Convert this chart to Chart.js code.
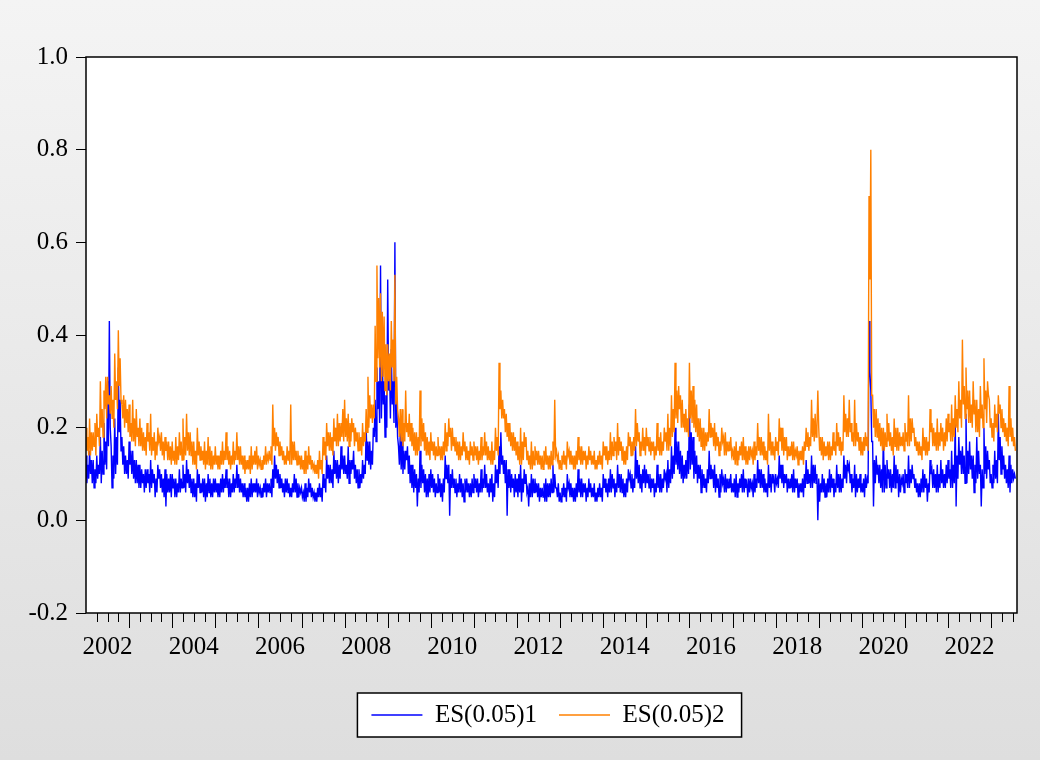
<!DOCTYPE html>
<html>
<head>
<meta charset="utf-8">
<script src="https://cdn.jsdelivr.net/npm/chart.js@4.4.0/dist/chart.umd.min.js"></script>
<style>
  html, body { margin: 0; padding: 0; background: #fff; }
  canvas { display: block; }
</style>
</head>
<body>
<canvas id="esChart" width="1040" height="760"></canvas>
<script>
// weekly readings (4 per month), first point Jan 2002
const startYear = 2002;
const pointsPerYear = 48;
const yearLabels = ['2002', '2004', '2006', '2008', '2010', '2012', '2014', '2016', '2018', '2020', '2022'];

const es1 = [
  .14,.08,.12,.09, .15,.10,.13,.08, .13,.07,.11,.08, .14,.09,.12,.10, .18,.08,.15,.10, .21,.12,.17,.11, .30,.16,.43,.20, .16,.07,.14,.09, .22,.10,.18,.12, .33,.19,.26,.15, .18,.12,.16,.10, .14,.10,.13,.09, // 2002
  .17,.12,.15,.10, .15,.09,.13,.08, .13,.08,.12,.07, .12,.07,.11,.08, .10,.06,.11,.07, .11,.08,.10,.06, .13,.07,.11,.08, .10,.05,.09,.06, .12,.09,.11,.07, .10,.06,.09,.05, .11,.03,.10,.06, .09,.06,.10,.05, // 2003
  .10,.07,.09,.05, .09,.05,.08,.06, .11,.06,.09,.07, .12,.07,.10,.06, .13,.08,.11,.07, .10,.06,.09,.05, .09,.05,.08,.04, .11,.07,.10,.06, .08,.06,.09,.05, .09,.04,.08,.05, .10,.06,.09,.05, .08,.05,.09,.06, // 2004
  .09,.06,.08,.05, .08,.05,.09,.06, .10,.06,.09,.07, .11,.07,.09,.05, .09,.05,.08,.06, .10,.06,.09,.07, .12,.07,.10,.06, .09,.06,.08,.05, .08,.05,.07,.04, .07,.04,.08,.05, .09,.05,.08,.06, .08,.06,.09,.05, // 2005
  .08,.06,.07,.05, .07,.05,.08,.06, .09,.05,.08,.06, .08,.06,.09,.05, .11,.07,.14,.09, .12,.08,.11,.07, .10,.07,.09,.06, .08,.05,.09,.06, .09,.06,.08,.05, .07,.05,.08,.06, .10,.06,.09,.05, .08,.05,.07,.06, // 2006
  .07,.05,.06,.04, .08,.04,.07,.05, .09,.06,.08,.05, .07,.05,.06,.04, .06,.04,.07,.05, .08,.05,.07,.04, .10,.07,.09,.06, .14,.09,.12,.08, .12,.08,.11,.07, .15,.10,.13,.09, .13,.08,.12,.09, .16,.11,.14,.10, // 2007
  .14,.10,.12,.09, .16,.08,.13,.10, .13,.11,.15,.09, .12,.08,.11,.07, .11,.07,.10,.08, .13,.09,.12,.10, .20,.13,.17,.12, .17,.11,.15,.12, .20,.18,.26,.17, .33,.24,.30,.21, .55,.22,.35,.25, .30,.18,.27,.20, // 2008
  .52,.28,.33,.22, .37,.25,.30,.21, .60,.20,.26,.18, .16,.12,.19,.11, .18,.10,.15,.11, .15,.13,.16,.10, .14,.08,.12,.07, .12,.06,.11,.07, .10,.03,.09,.06, .15,.07,.12,.08, .11,.06,.10,.05, .09,.05,.10,.06, // 2009
  .11,.07,.10,.06, .09,.05,.08,.06, .10,.06,.09,.05, .08,.04,.09,.06, .14,.09,.12,.08, .12,.01,.10,.07, .11,.07,.09,.06, .09,.05,.08,.06, .10,.06,.09,.05, .08,.04,.09,.06, .09,.06,.08,.05, .08,.05,.09,.06, // 2010
  .10,.07,.09,.06, .09,.05,.08,.06, .11,.06,.09,.07, .12,.07,.10,.06, .08,.05,.09,.06, .10,.04,.08,.05, .12,.08,.11,.07, .16,.10,.19,.12, .14,.10,.13,.08, .13,.01,.11,.07, .11,.06,.10,.07, .09,.05,.10,.06, // 2011
  .09,.05,.10,.06, .12,.04,.09,.06, .11,.08,.10,.06, .07,.03,.08,.05, .10,.05,.09,.06, .09,.06,.08,.05, .08,.04,.07,.05, .07,.05,.08,.04, .09,.04,.08,.05, .08,.05,.09,.06, .12,.06,.10,.07, .07,.05,.08,.04, // 2012
  .06,.04,.07,.05, .08,.05,.07,.04, .10,.07,.08,.05, .08,.05,.07,.04, .07,.04,.08,.05, .11,.06,.09,.05, .09,.05,.08,.06, .08,.04,.07,.05, .09,.06,.08,.05, .07,.05,.08,.04, .06,.04,.07,.05, .08,.05,.07,.04, // 2013
  .10,.07,.09,.06, .08,.05,.09,.06, .11,.06,.10,.07, .09,.05,.08,.06, .12,.07,.10,.06, .10,.06,.09,.05, .08,.05,.09,.06, .11,.09,.10,.07, .10,.06,.09,.07, .16,.09,.13,.08, .12,.07,.10,.06, .11,.08,.12,.07, // 2014
  .11,.08,.10,.07, .10,.06,.09,.07, .09,.05,.08,.06, .12,.07,.10,.06, .10,.06,.09,.07, .11,.09,.10,.06, .13,.07,.11,.08, .16,.09,.14,.10, .20,.12,.17,.11, .17,.10,.15,.09, .14,.08,.12,.09, .13,.09,.15,.10, // 2015
  .25,.11,.19,.12, .18,.09,.15,.10, .14,.08,.12,.09, .12,.06,.11,.07, .10,.07,.09,.06, .11,.08,.15,.09, .12,.09,.11,.07, .12,.06,.10,.07, .09,.05,.10,.06, .11,.08,.09,.06, .10,.06,.09,.07, .09,.07,.10,.06, // 2016
  .08,.06,.09,.05, .10,.05,.08,.06, .09,.07,.10,.06, .11,.06,.09,.07, .08,.05,.09,.06, .09,.07,.08,.05, .10,.06,.09,.07, .13,.08,.11,.07, .11,.07,.10,.06, .09,.06,.08,.05, .12,.07,.10,.06, .10,.08,.09,.06, // 2017
  .10,.08,.09,.07, .14,.09,.12,.08, .12,.07,.10,.08, .10,.06,.09,.07, .09,.07,.10,.06, .11,.06,.09,.07, .09,.05,.08,.06, .08,.06,.09,.05, .10,.07,.13,.08, .11,.08,.10,.07, .14,.07,.12,.08, .12,.08,.10,.00, // 2018
  .09,.04,.08,.06, .10,.06,.09,.05, .08,.05,.09,.06, .11,.06,.10,.07, .09,.05,.08,.06, .12,.07,.10,.06, .10,.06,.09,.07, .14,.09,.12,.08, .13,.11,.12,.08, .10,.06,.09,.07, .12,.05,.10,.06, .09,.07,.10,.06, // 2019
  .08,.06,.09,.05, .10,.07,.09,.08, .43,.32,.28,.17, .17,.03,.13,.08, .14,.10,.12,.08, .12,.07,.11,.06, .19,.06,.12,.07, .13,.09,.11,.07, .11,.06,.10,.07, .14,.07,.12,.08, .11,.05,.10,.06, .09,.08,.10,.06, // 2020
  .11,.08,.10,.07, .14,.07,.11,.08, .12,.09,.10,.07, .09,.06,.08,.05, .08,.05,.09,.06, .11,.06,.10,.07, .09,.04,.08,.06, .13,.10,.11,.07, .11,.07,.10,.06, .12,.06,.10,.07, .13,.08,.11,.07, .10,.07,.12,.08, // 2021
  .13,.09,.11,.07, .15,.07,.12,.08, .22,.03,.14,.09, .18,.12,.15,.10, .16,.10,.14,.08, .23,.08,.15,.10, .17,.11,.14,.09, .14,.06,.12,.08, .18,.09,.15,.10, .12,.03,.11,.07, .20,.10,.16,.09, .15,.11,.13,.08, // 2022
  .10,.07,.12,.08, .15,.09,.13,.08, .23,.13,.18,.10, .16,.11,.14,.09, .12,.08,.11,.07, .14,.06,.12,.08, .11,.09,.10,.09  // 2023
];

const es2 = [
  .20,.15,.18,.14, .22,.14,.19,.15, .19,.16,.21,.14, .23,.18,.20,.16, .30,.20,.24,.18, .28,.24,.31,.22, .31,.25,.27,.23, .29,.22,.26,.20, .36,.26,.30,.24, .41,.29,.35,.26, .25,.22,.27,.20, .26,.21,.24,.19, // 2002
  .25,.18,.21,.17, .26,.17,.22,.16, .24,.18,.20,.16, .22,.16,.20,.15, .19,.15,.18,.14, .21,.17,.19,.15, .23,.14,.18,.15, .19,.13,.17,.14, .20,.17,.18,.15, .19,.14,.17,.13, .18,.15,.17,.13, .17,.13,.16,.12, // 2003
  .17,.13,.15,.12, .18,.12,.16,.13, .19,.14,.17,.13, .22,.13,.18,.14, .23,.15,.19,.14, .19,.14,.17,.12, .17,.12,.15,.11, .20,.14,.17,.13, .16,.13,.15,.12, .17,.11,.15,.12, .18,.12,.16,.11, .15,.11,.14,.12, // 2004
  .16,.12,.14,.11, .14,.11,.15,.12, .17,.12,.15,.13, .19,.13,.16,.12, .15,.11,.14,.12, .17,.12,.15,.13, .19,.13,.16,.12, .16,.12,.14,.11, .14,.10,.13,.11, .13,.11,.14,.10, .16,.11,.14,.12, .15,.12,.16,.11, // 2005
  .14,.12,.13,.11, .13,.11,.14,.12, .16,.12,.14,.13, .15,.13,.16,.12, .25,.16,.20,.15, .19,.16,.18,.14, .17,.14,.16,.13, .15,.12,.14,.12, .16,.13,.15,.12, .25,.12,.17,.13, .17,.13,.15,.12, .15,.12,.14,.11, // 2006
  .14,.11,.13,.10, .15,.10,.14,.11, .16,.12,.14,.11, .13,.11,.12,.10, .12,.10,.13,.09, .15,.11,.13,.10, .18,.14,.17,.13, .21,.16,.19,.15, .19,.15,.18,.14, .22,.17,.20,.16, .23,.16,.21,.17, .21,.18,.24,.17, // 2007
  .26,.18,.22,.17, .23,.16,.21,.17, .22,.19,.21,.16, .20,.17,.19,.15, .19,.15,.18,.14, .21,.16,.19,.17, .24,.19,.31,.20, .27,.22,.25,.21, .25,.22,.42,.30, .55,.35,.48,.33, .49,.30,.45,.31, .44,.28,.38,.27, // 2008
  .38,.30,.36,.28, .43,.33,.39,.30, .53,.25,.31,.24, .22,.18,.24,.17, .24,.16,.21,.17, .28,.19,.21,.18, .23,.17,.21,.16, .20,.15,.19,.14, .19,.14,.18,.15, .28,.16,.22,.17, .21,.15,.19,.14, .18,.14,.17,.13, // 2009
  .19,.15,.17,.14, .17,.13,.16,.14, .18,.14,.16,.13, .16,.13,.17,.14, .21,.15,.19,.16, .22,.18,.20,.15, .20,.16,.18,.15, .18,.14,.17,.13, .17,.13,.16,.14, .19,.15,.17,.13, .16,.13,.15,.12, .17,.14,.16,.13, // 2010
  .17,.14,.16,.13, .16,.12,.15,.13, .18,.13,.16,.14, .19,.14,.17,.13, .16,.13,.15,.12, .17,.12,.15,.13, .20,.15,.18,.14, .34,.24,.28,.22, .26,.22,.24,.19, .23,.18,.21,.17, .21,.16,.19,.15, .19,.15,.18,.14, // 2011
  .17,.13,.16,.12, .20,.12,.17,.13, .19,.16,.18,.13, .15,.12,.14,.11, .17,.11,.15,.12, .16,.13,.15,.12, .15,.12,.14,.11, .14,.11,.15,.12, .16,.12,.14,.11, .14,.11,.15,.12, .17,.13,.26,.14, .15,.13,.14,.11, // 2012
  .13,.11,.14,.12, .15,.12,.14,.11, .17,.14,.15,.12, .15,.12,.14,.11, .14,.11,.15,.12, .18,.13,.16,.12, .16,.12,.15,.13, .15,.11,.14,.12, .16,.13,.15,.12, .14,.12,.15,.11, .13,.11,.14,.12, .15,.12,.14,.11, // 2013
  .17,.14,.16,.13, .16,.12,.15,.13, .19,.13,.17,.14, .18,.15,.17,.13, .21,.14,.18,.15, .17,.13,.16,.12, .15,.12,.16,.13, .19,.16,.18,.14, .17,.14,.18,.15, .24,.16,.21,.17, .19,.14,.17,.15, .20,.15,.18,.14, // 2014
  .20,.16,.18,.15, .18,.14,.17,.15, .17,.13,.16,.14, .21,.15,.18,.14, .19,.14,.17,.15, .20,.17,.19,.15, .23,.15,.20,.16, .27,.18,.24,.19, .34,.22,.28,.21, .29,.24,.27,.20, .26,.20,.23,.19, .24,.19,.22,.18, // 2015
  .34,.22,.28,.21, .29,.20,.26,.19, .25,.18,.22,.17, .22,.16,.20,.15, .20,.15,.19,.16, .19,.17,.24,.18, .21,.18,.20,.16, .21,.15,.19,.16, .18,.14,.17,.15, .20,.17,.18,.14, .19,.14,.17,.15, .17,.15,.18,.14, // 2016
  .15,.13,.16,.12, .17,.12,.15,.13, .16,.14,.17,.13, .18,.13,.16,.12, .15,.12,.16,.13, .16,.14,.15,.12, .17,.13,.16,.14, .21,.15,.18,.14, .18,.14,.17,.13, .16,.13,.15,.12, .23,.15,.19,.14, .17,.14,.16,.13, // 2017
  .18,.15,.17,.14, .22,.17,.20,.15, .20,.14,.18,.15, .18,.13,.16,.14, .16,.14,.17,.13, .17,.13,.15,.14, .16,.12,.15,.13, .15,.13,.16,.12, .17,.15,.20,.16, .19,.15,.18,.16, .26,.18,.22,.17, .23,.18,.20,.28, // 2018
  .20,.15,.18,.14, .18,.13,.17,.14, .16,.14,.17,.13, .17,.13,.16,.14, .19,.15,.17,.14, .21,.16,.19,.15, .18,.14,.17,.15, .27,.19,.23,.18, .22,.18,.26,.19, .21,.17,.19,.16, .26,.16,.21,.17, .19,.15,.18,.14, // 2019
  .17,.14,.18,.15, .19,.16,.18,.15, .70,.52,.80,.27, .27,.20,.24,.18, .24,.18,.22,.17, .21,.16,.20,.15, .20,.15,.19,.16, .23,.17,.21,.16, .19,.15,.18,.14, .22,.16,.20,.15, .20,.15,.19,.16, .18,.16,.19,.15, // 2020
  .21,.17,.19,.16, .27,.16,.22,.17, .22,.19,.20,.16, .18,.15,.17,.14, .17,.14,.16,.13, .20,.15,.18,.14, .18,.14,.17,.15, .24,.19,.21,.16, .20,.16,.19,.15, .22,.15,.19,.16, .21,.17,.20,.15, .19,.16,.22,.17, // 2021
  .23,.19,.21,.17, .25,.17,.22,.18, .27,.20,.24,.19, .30,.22,.26,.20, .39,.25,.29,.22, .33,.24,.28,.21, .28,.21,.25,.20, .30,.23,.26,.19, .26,.19,.24,.18, .29,.22,.25,.20, .35,.24,.28,.21, .30,.27,.26,.20, // 2022
  .22,.18,.21,.17, .25,.20,.23,.19, .27,.23,.25,.20, .24,.19,.22,.18, .21,.17,.20,.16, .29,.18,.22,.17, .20,.16,.18,.15  // 2023
];

function toPoints(values) {
  return values.map((v, i) => ({ x: startYear + i / pointsPerYear, y: v }));
}

const serif = { family: "'Liberation Serif', 'Times New Roman', serif", size: 25 };
const legendMidX = 548;
const legendMidY = 715;

// background panel, white plot, frame, quarterly ticks, legend box
const framePlugin = {
  id: 'frame',
  afterLayout(chart) {
    const lg = chart.legend;
    if (!lg) return;
    const h = lg.height;
    lg.top = legendMidY - 22 - 12.5;
    lg.bottom = lg.top + h;
    lg.left = 2 * legendMidX - lg.right;
    lg.width = lg.right - lg.left;
  },
  beforeDraw(chart) {
    const { ctx, chartArea: a, width, height } = chart;
    ctx.save();
    const g = ctx.createLinearGradient(0, 0, 0, height);
    g.addColorStop(0, '#f4f4f4');
    g.addColorStop(1, '#dedede');
    ctx.fillStyle = g;
    ctx.fillRect(0, 0, width, height);
    ctx.fillStyle = '#fff';
    ctx.fillRect(a.left, a.top, a.right - a.left, a.bottom - a.top);

    const hb = chart.legend.legendHitBoxes;
    if (hb && hb.length) {
      const last = hb[hb.length - 1];
      const x0 = hb[0].left - 14;
      const x1 = last.left + last.width + 17;
      const mid = hb[0].top + hb[0].height / 2;
      ctx.fillStyle = '#fff';
      ctx.fillRect(x0, mid - 22, x1 - x0, 44);
      ctx.strokeStyle = '#000';
      ctx.lineWidth = 1.5;
      ctx.strokeRect(x0, mid - 22, x1 - x0, 44);
    }
    ctx.restore();
  },
  afterDraw(chart) {
    const { ctx, chartArea: a } = chart;
    const xs = chart.scales.x;
    ctx.save();
    ctx.strokeStyle = '#000';
    ctx.lineWidth = 1;
    for (let q = 1; startYear + q / 4 <= xs.max; q++) {
      const v = startYear + q / 4;
      const px = Math.round(xs.getPixelForValue(v)) + 0.5;
      ctx.beginPath();
      ctx.moveTo(px, a.bottom);
      ctx.lineTo(px, a.bottom + (q % 4 === 0 ? 15 : 9));
      ctx.stroke();
    }
    ctx.lineWidth = 1.5;
    ctx.strokeRect(a.left, a.top, a.right - a.left, a.bottom - a.top);
    ctx.restore();
  }
};

const ctx = document.getElementById('esChart').getContext('2d');
const esChart = new Chart(ctx, {
  type: 'line',
  data: {
    datasets: [{
      label: 'ES(0.05)1',
      data: toPoints(es1),
      borderColor: '#0000ff',
      backgroundColor: '#0000ff',
      borderWidth: 1.4,
      pointRadius: 0,
      order: 1
    }, {
      label: 'ES(0.05)2',
      data: toPoints(es2),
      borderColor: '#ff8000',
      backgroundColor: '#ff8000',
      borderWidth: 1.4,
      pointRadius: 0,
      order: 0
    }]
  },
  options: {
    responsive: false,
    animation: false,
    devicePixelRatio: 1,
    events: [],
    layout: { padding: { left: 0, right: 23, top: 57, bottom: 0 } },
    scales: {
      x: {
        type: 'linear',
        min: 2002,
        max: 2023.6,
        grid: { display: false, drawTicks: false },
        border: { display: false },
        afterBuildTicks: (scale) => {
          scale.ticks = yearLabels.map(l => ({ value: Number(l) + 0.5 }));
        },
        afterFit: (scale) => {
          scale.height = 760 - 613 - scale.chart.legend.height;
        },
        ticks: {
          autoSkip: false,
          maxRotation: 0,
          padding: 19,
          color: '#000',
          font: serif,
          callback: (v, i) => yearLabels[i]
        }
      },
      y: {
        min: -0.2,
        max: 1.0,
        grid: { drawOnChartArea: false, color: '#000', tickColor: '#000', tickLength: 10, lineWidth: 1 },
        border: { display: false },
        afterFit: (scale) => { scale.width = 86; },
        ticks: {
          stepSize: 0.2,
          padding: 8,
          color: '#000',
          font: serif,
          callback: (v) => (Math.abs(v) < 1e-9 ? 0 : v).toFixed(1)
        }
      }
    },
    plugins: {
      tooltip: { enabled: false },
      legend: {
        position: 'bottom',
        labels: {
          usePointStyle: true,
          pointStyle: 'line',
          pointStyleWidth: 51,
          padding: 22,
          color: '#000',
          font: serif,
          sort: (a, b) => a.datasetIndex - b.datasetIndex
        }
      }
    }
  },
  plugins: [framePlugin]
});
</script>
</body>
</html>
